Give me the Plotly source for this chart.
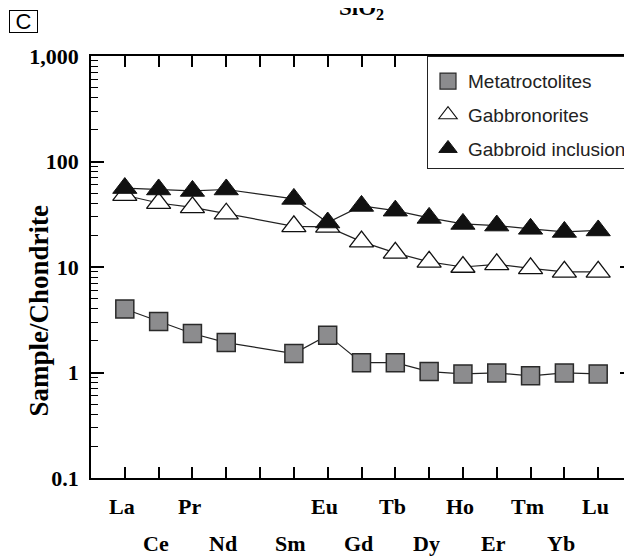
import plotly.graph_objects as go

# ---- data ----
elements = ["La", "Ce", "Pr", "Nd", "Pm", "Sm", "Eu", "Gd", "Tb", "Dy", "Ho", "Er", "Tm", "Yb", "Lu"]
element_labels = ["La", "Ce", "Pr", "Nd", "", "Sm", "Eu", "Gd", "Tb", "Dy", "Ho", "Er", "Tm", "Yb", "Lu"]
metatroctolites = [4.0, 3.04, 2.34, 1.92, None, 1.51, 2.26, 1.24, 1.24, 1.02, 0.97, 0.99, 0.93, 0.99, 0.97]
gabbronorites = [47.9, 40.4, 36.8, 32.0, None, 24.3, 24.0, 17.4, 13.6, 11.2, 10.0, 10.6, 9.7, 9.0, 9.0]
gabbroid_inclusion = [56.0, 54.3, 52.6, 54.3, None, 44.2, 26.4, 37.9, 34.2, 29.2, 25.6, 24.7, 23.0, 21.5, 22.2]
series_names = ["Metatroctolites", "Gabbronorites", "Gabbroid inclusion"]
y_tickvals = [0.1, 1, 10, 100, 1000]
y_ticktext = ["0.1", "1", "10", "100", "1,000"]

SERIF = "Liberation Serif, Times New Roman, serif"
SANS = "Liberation Sans, Arial, sans-serif"
LINE = "#222222"

minor_vals = [m * 10 ** k for k in range(-1, 3) for m in range(2, 10)]

styles = [
    dict(symbol="square", size=18, color="#8c8c8e", line=dict(color="#2a2a2a", width=1.5)),
    dict(symbol="triangle-up", size=21, color="white", line=dict(color="#111111", width=1.3)),
    dict(symbol="triangle-up", size=21, color="#111111", line=dict(color="#111111", width=1)),
]
legend_styles = [
    dict(symbol="square", size=16, color="#8c8c8e", line=dict(color="#2a2a2a", width=1.2)),
    dict(symbol="triangle-up", size=17, color="white", line=dict(color="#111111", width=1.1)),
    dict(symbol="triangle-up", size=17, color="#111111", line=dict(color="#111111", width=1)),
]

fig = go.Figure()
for name, vals, st in zip(series_names, [metatroctolites, gabbronorites, gabbroid_inclusion], styles):
    fig.add_trace(go.Scatter(
        x=elements, y=vals, mode="lines+markers", name=name, connectgaps=True,
        line=dict(color=LINE, width=1.2), marker=st, showlegend=False, hoverinfo="skip"))

for i, (name, st) in enumerate(zip(series_names, legend_styles)):
    fig.add_trace(go.Scatter(
        x=[None], y=[None], mode="markers", name=name, marker=st,
        legendgroup="g%d" % i, showlegend=True))

# invisible trace to carry the right-hand tick axis
fig.add_trace(go.Scatter(x=[None], y=[None], yaxis="y2", showlegend=False, hoverinfo="skip"))

annotations = []
for i, lab in enumerate(element_labels):
    if not lab:
        continue
    annotations.append(dict(
        x=elements[i], xref="x", y=0, yref="paper", xanchor="center", yanchor="middle",
        yshift=-28 if i % 2 == 0 else -65, xshift=-3, text="<b>%s</b>" % lab, showarrow=False,
        font=dict(family=SERIF, size=22, color="black")))

PW, PH = 541, 422
annotations += [
    dict(x=(38.5 - 91) / PW, xref="paper", y=(478 - 311) / PH, yref="paper",
         text="<b>Sample/Chondrite</b>", textangle=-90, showarrow=False,
         xanchor="center", yanchor="middle",
         font=dict(family=SERIF, size=27, color="black")),
    dict(x=0.5, xref="paper", y=1, yref="paper", xanchor="center", yanchor="middle", yshift=47,
         text="<b>SiO<sub>2</sub></b>", showarrow=False,
         font=dict(family=SERIF, size=23, color="black")),
    dict(x=(23.5 - 91) / PW, xref="paper", y=1, yref="paper", xanchor="center", yanchor="middle",
         yshift=35, text="C", showarrow=False, width=27, height=21, borderpad=0,
         bordercolor="black", borderwidth=1,
         font=dict(family=SANS, size=22, color="black")),
]

fig.update_layout(
    width=624, height=548,
    margin=dict(l=83, r=0, t=48, b=78),
    paper_bgcolor="white", plot_bgcolor="white",
    font=dict(family=SERIF, size=22, color="black"),
    xaxis=dict(
        type="category", categoryorder="array", categoryarray=elements,
        range=[-1, 15], showgrid=False, zeroline=False,
        showline=True, linecolor="black", linewidth=1.5, mirror="ticks",
        ticks="inside", ticklen=11, tickwidth=1.5, tickcolor="black",
        showticklabels=False),
    yaxis=dict(
        type="log", range=[-1, 3], showgrid=False, zeroline=False,
        showline=True, linecolor="black", linewidth=1.5, mirror=False,
        tickmode="array", tickvals=y_tickvals, ticktext=y_ticktext,
        ticks="inside", ticklen=13, tickwidth=1.5, tickcolor="black",
        ticklabelstandoff=6,
        tickfont=dict(family=SERIF, size=22, color="black", weight="bold"),
        minor=dict(tickmode="array", tickvals=minor_vals, ticks="inside",
                   ticklen=7, tickwidth=1.2, tickcolor="black", showgrid=False)),
    yaxis2=dict(
        type="log", range=[-1, 3], overlaying="y", side="right", anchor="x",
        showgrid=False, zeroline=False, showline=False,
        tickmode="array", tickvals=y_tickvals, showticklabels=False,
        ticks="inside", ticklen=12, tickwidth=1.5, tickcolor="black",
        minor=dict(tickmode="array", tickvals=minor_vals, ticks="inside",
                   ticklen=7, tickwidth=1.2, tickcolor="black", showgrid=False)),
    legend=dict(
        x=1, xanchor="right", y=1, yanchor="top",
        bgcolor="white", bordercolor="#222222", borderwidth=1,
        font=dict(family=SANS, size=19, color="#222222"),
        title=dict(text=" ", font=dict(size=4)),
        tracegroupgap=6, itemsizing="trace"),
    annotations=annotations,
)

fig.write_html("out.html")
